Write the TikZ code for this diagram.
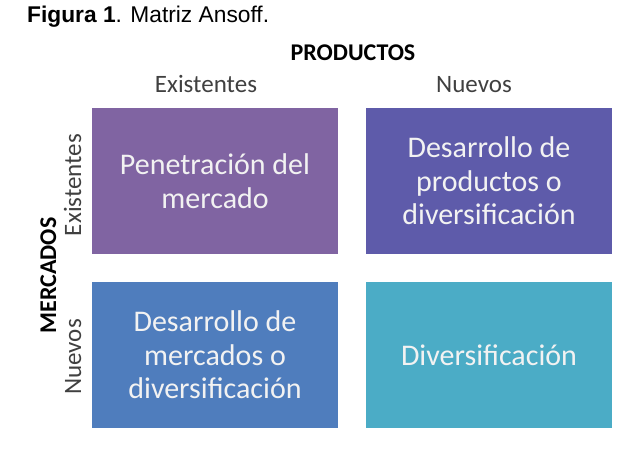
\documentclass[tikz,border=0pt]{standalone}
\usepackage{fontspec}
\setmainfont{Carlito}
\newfontfamily\arialfont{Liberation Sans}
\definecolor{cA}{HTML}{8064A2}
\definecolor{cB}{HTML}{5E5BAA}
\definecolor{cC}{HTML}{4F7DBD}
\definecolor{cD}{HTML}{4BACC6}
\definecolor{boxtext}{HTML}{F2F2F2}
\definecolor{labgray}{HTML}{404040}
\begin{document}
\begin{tikzpicture}[x=1pt,y=1pt]
\tikzset{
  quad/.style={minimum width=246pt,minimum height=146pt,inner sep=0pt,outer sep=0pt,
    text=boxtext,align=center,font=\fontsize{30}{33.5}\selectfont},
  axislab/.style={text=labgray,font=\fontsize{25}{29}\selectfont,inner sep=0pt},
  axistitle/.style={text=black,font=\fontsize{24}{28}\selectfont\bfseries,inner sep=0pt}
}
\useasboundingbox[fill=white] (0,0) rectangle (640,449);
\node[anchor=base west,inner sep=0pt,font=\arialfont\fontsize{22.75}{26}\selectfont] (title) at (27,426) {\textbf{Figura 1}. Matriz Ansoff.};
\node[axistitle,anchor=base] (prod) at (353,388.3) {PRODUCTOS};
\node[axislab,anchor=base] (pex) at (206,356.7) {Existentes};
\node[axislab,anchor=base] (pnu) at (474,356.7) {Nuevos};
\node[axistitle,anchor=base,rotate=90] (merc) at (56,173.5) {MERCADOS};
\node[axislab,anchor=base,rotate=90] (mex) at (81,264) {Existentes};
\node[axislab,anchor=base,rotate=90] (mnu) at (81,92) {Nuevos};
\node[quad,fill=cA] (q1) at (215,268) {Penetración del\\mercado};
\node[quad,fill=cB] (q2) at (489,268) {Desarrollo de\\productos o\\diversificación};
\node[quad,fill=cC] (q3) at (215,94) {Desarrollo de\\mercados o\\diversificación};
\node[quad,fill=cD] (q4) at (489,94) {Diversificación};
\end{tikzpicture}
\end{document}
